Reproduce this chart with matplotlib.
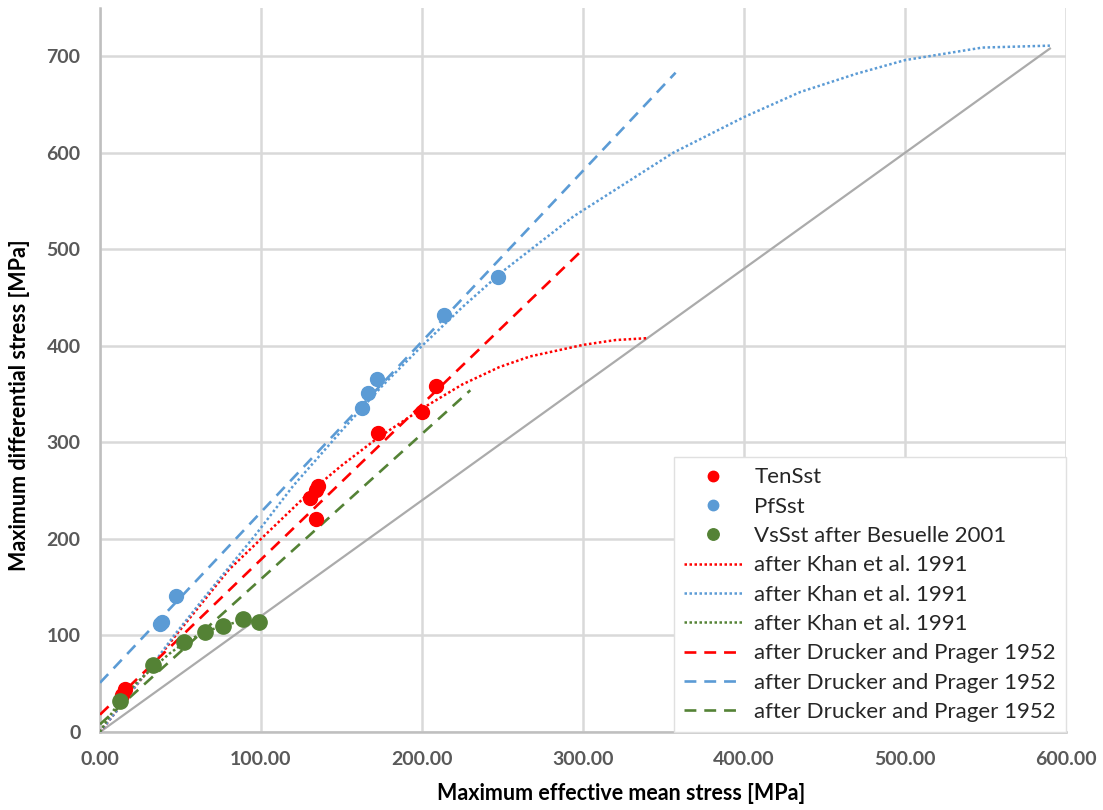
import matplotlib.pyplot as plt

plt.rcParams['font.family'] = ['Lato', 'DejaVu Sans']

# measured points
ten_x = [13.4, 15.5, 130.4, 134.0, 135.6, 134.0, 172.4, 199.8, 209.0]
ten_y = [38, 45, 242, 251, 255, 221, 310, 332, 358]
pf_x = [37.5, 38.5, 47.0, 162.5, 166.6, 171.8, 213.9, 247.4]
pf_y = [112, 114, 141, 336, 351, 366, 432, 471]
vs_x = [12.4, 33.1, 52.2, 65.2, 76.6, 89.0, 98.8]
vs_y = [32, 69, 93, 104, 110, 117, 114]

# Khan et al. 1991 curves
khan_red_x = [0, 10, 20, 35, 47, 65, 80, 100, 130, 150, 172, 200, 225, 248, 267, 300, 320, 340]
khan_red_y = [0, 21, 43, 74, 100, 137, 168, 200, 248, 276, 304, 335, 360, 378, 389, 401, 406, 408]
khan_blue_x = [0, 10, 20, 35, 46, 70, 96, 120, 150, 175, 200, 225, 250, 294, 356, 400, 435, 470, 500, 548, 590]
khan_blue_y = [0, 21, 43, 75, 100, 150, 203, 255, 312, 358, 400, 440, 477, 534, 600, 637, 663, 682, 696, 709, 711]
khan_green_x = [0, 5, 12, 22, 34, 43, 52, 65, 77, 89, 99]
khan_green_y = [0, 14, 31, 50, 68, 81, 92, 104, 110, 116, 114]

# Drucker and Prager 1952 lines
dp_red_x = [0, 300]
dp_red_y = [18, 500]
dp_blue_x = [0, 357.5]
dp_blue_y = [51, 683]
dp_green_x = [0, 230]
dp_green_y = [8, 354]

# 1:1.2 reference line
ref_x = [0, 590]
ref_y = [0, 708]

x_ticks = [0, 100, 200, 300, 400, 500, 600]
y_ticks = [0, 100, 200, 300, 400, 500, 600, 700]

RED = '#FF0000'
BLUE = '#5B9BD5'
GREEN = '#548235'

fig = plt.figure(figsize=(11.03, 8.10), dpi=100)
ax = fig.add_axes([100/1103, 1 - 732/810, 966/1103, 724/810])

dot = (0, (1, 1))
dash = (0, (4.5, 3))

ax.plot(ref_x, ref_y, color='#ABABAB', lw=1.6, zorder=2)

ax.plot(ten_x, ten_y, 'o', color=RED, ms=10, label='TenSst', zorder=5)
ax.plot(pf_x, pf_y, 'o', color=BLUE, ms=10, label='PfSst', zorder=5)
ax.plot(vs_x, vs_y, 'o', color=GREEN, ms=11, label='VsSst after Besuelle 2001', zorder=5)

ax.plot(khan_red_x, khan_red_y, color=RED, lw=1.8, ls=dot, label='after Khan et al. 1991', zorder=3)
ax.plot(khan_blue_x, khan_blue_y, color=BLUE, lw=1.8, ls=dot, label='after Khan et al. 1991', zorder=3)
ax.plot(khan_green_x, khan_green_y, color=GREEN, lw=1.8, ls=dot, label='after Khan et al. 1991', zorder=3)

ax.plot(dp_red_x, dp_red_y, color=RED, lw=1.9, ls=dash, label='after Drucker and Prager 1952', zorder=3)
ax.plot(dp_blue_x, dp_blue_y, color=BLUE, lw=1.9, ls=dash, label='after Drucker and Prager 1952', zorder=3)
ax.plot(dp_green_x, dp_green_y, color=GREEN, lw=1.9, ls=dash, label='after Drucker and Prager 1952', zorder=3)

ax.set_xlim(0, 600)
ax.set_ylim(0, 750)
ax.set_xticks(x_ticks)
ax.set_xticklabels([f'{v:.2f}' for v in x_ticks])
ax.set_yticks(y_ticks)
ax.set_yticklabels([str(v) for v in y_ticks])
ax.tick_params(length=0, labelsize=14, labelcolor='#595959')
ax.tick_params(axis='y', pad=14)
ax.tick_params(axis='x', pad=14)
for lab in ax.get_xticklabels() + ax.get_yticklabels():
    lab.set_fontweight('bold')

ax.grid(True, color='#D9D9D9', lw=1.8, zorder=0)
ax.set_axisbelow(True)
for s in ['top', 'right']:
    ax.spines[s].set_visible(False)
for s in ['left', 'bottom']:
    ax.spines[s].set_color('#BFBFBF')
    ax.spines[s].set_linewidth(1.8)

ax.set_xlabel('Maximum effective mean stress [MPa]', fontsize=15.5, fontweight='bold')
ax.set_ylabel('Maximum differential stress [MPa]', fontsize=15.5, fontweight='bold')
ax.xaxis.set_label_coords(0.539, -0.07)
ax.yaxis.set_label_coords(-0.072, 0.452)

leg = ax.legend(loc='lower right', bbox_to_anchor=(1.0, 0.0), borderaxespad=0,
                fontsize=16, frameon=True, fancybox=False, framealpha=1,
                edgecolor='#E0E0E0', handlelength=2.6, handletextpad=0.55,
                labelspacing=0.42, markerscale=0.75, borderpad=0.45)
leg.get_frame().set_linewidth(1.0)
for t in leg.get_texts():
    t.set_color('#262626')

fig.savefig('out.png', dpi=100)
